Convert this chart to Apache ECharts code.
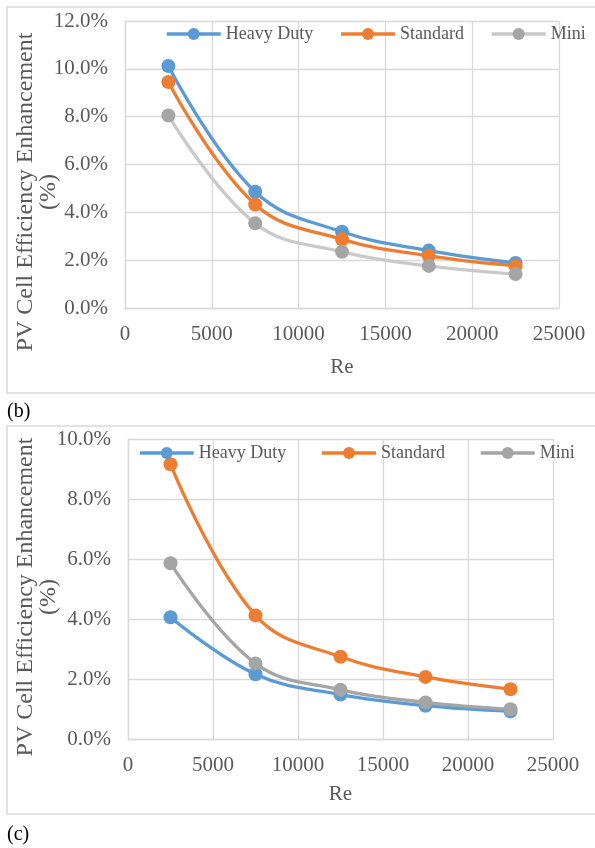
<!DOCTYPE html>
<html>
<head>
<meta charset="utf-8">
<script src="https://cdn.jsdelivr.net/npm/echarts@6/dist/echarts.min.js"></script>
<style>
html,body{margin:0;padding:0;background:#fff;}
#c1{position:absolute;left:0;top:0;width:595px;height:424px;}
#c2{position:absolute;left:0;top:424px;width:595px;height:424px;}
</style>
</head>
<body>
<div id="c1"></div>
<div id="c2"></div>
<script>
// ---- data ----
var reValues = [2500, 7500, 12500, 17500, 22500];
var seriesNames = ['Heavy Duty', 'Standard', 'Mini'];
// panel (b) values in %
var bHeavy = [10.12, 4.86, 3.19, 2.40, 1.88];
var bStandard = [9.45, 4.33, 2.87, 2.18, 1.76];
var bMini = [8.05, 3.54, 2.35, 1.76, 1.42];
// panel (c) values in %
var cHeavy = [4.06, 2.16, 1.48, 1.11, 0.92];
var cStandard = [9.16, 4.12, 2.74, 2.07, 1.66];
var cMini = [5.86, 2.52, 1.64, 1.22, 0.99];
var bYMax = 12, cYMax = 10;
var xMax = 25000;

var FONT = '"Liberation Serif", "Times New Roman", serif';
var TXT = '#595959';
var GRID = '#d9d9d9';

function pairs(vals) { return reValues.map(function (x, i) { return [x, vals[i]]; }); }

function makeSeries(name, vals, color, lineColor) {
  return {
    name: name, type: 'line', data: pairs(vals),
    smooth: 0.4, symbol: 'circle', symbolSize: 14,
    lineStyle: { color: lineColor || color, width: 3.3 },
    itemStyle: { color: color },
    emphasis: { disabled: true }
  };
}

function makeOption(p) {
  return {
    animation: false,
    backgroundColor: '#fff',
    textStyle: { fontFamily: FONT },
    grid: { left: p.gridLeft, top: p.gridTop, width: p.gridWidth, height: p.gridHeight, containLabel: false },
    legend: {
      data: seriesNames, left: p.legendLeft, top: p.legendTop, padding: 0,
      itemWidth: 54, itemHeight: 15, itemGap: p.legendGap,
      lineStyle: { width: 3.5 },
      textStyle: { fontFamily: FONT, fontSize: 18, color: TXT },
      selectedMode: false
    },
    xAxis: {
      type: 'value', min: 0, max: xMax, interval: 5000,
      name: 'Re', nameLocation: 'middle', nameGap: p.nameGap,
      nameTextStyle: { fontFamily: FONT, fontSize: 21, color: TXT },
      axisLine: { show: true, lineStyle: { color: GRID, width: 1.3 } },
      axisTick: { show: false },
      axisLabel: { fontFamily: FONT, fontSize: 21, color: TXT, margin: 16,
        formatter: function (v) { return String(v); } },
      splitLine: { show: true, lineStyle: { color: GRID, width: 1.3 } }
    },
    yAxis: {
      type: 'value', min: 0, max: p.yMax, interval: 2,
      axisLine: { show: true, lineStyle: { color: GRID, width: 1.3 } },
      axisTick: { show: false },
      axisLabel: { fontFamily: FONT, fontSize: 21, color: TXT, margin: 17,
        formatter: function (v) { return v.toFixed(1) + '%'; } },
      splitLine: { show: true, lineStyle: { color: GRID, width: 1.3 } }
    },
    graphic: [
      { type: 'rect', shape: { x: 7, y: p.boxTop, width: 620, height: p.boxBottom - p.boxTop },
        style: { fill: 'none', stroke: GRID, lineWidth: 1.5 }, silent: true, z: -10 },
      { type: 'text', x: p.titleX, y: p.titleY, rotation: Math.PI / 2,
        style: { text: 'PV Cell Efficiency Enhancement\n(%)', fontFamily: FONT, fontSize: 24,
          fill: TXT, align: 'center', verticalAlign: 'middle', lineHeight: 23 } },
      { type: 'text', x: 7, y: p.labelY,
        style: { text: p.label, fontFamily: FONT, fontSize: 20, fill: '#000', align: 'left', verticalAlign: 'middle' } }
    ],
    series: p.series
  };
}

var chart1 = echarts.init(document.getElementById('c1'), null, { renderer: 'canvas' });
chart1.setOption(makeOption({
  gridLeft: 125, gridTop: 21, gridWidth: 434, gridHeight: 287,
  legendLeft: 165, legendTop: 25, legendGap: 26, nameGap: 49,
  yMax: bYMax, boxTop: 7, boxBottom: 393,
  titleX: 37, titleY: 192, labelY: 412, label: '(b)',
  series: [
    makeSeries(seriesNames[0], bHeavy, '#5B9BD5'),
    makeSeries(seriesNames[1], bStandard, '#ED7D31'),
    makeSeries(seriesNames[2], bMini, '#A5A5A5', '#C9C9C9')
  ]
}));

var chart2 = echarts.init(document.getElementById('c2'), null, { renderer: 'canvas' });
chart2.setOption(makeOption({
  gridLeft: 128, gridTop: 15, gridWidth: 425, gridHeight: 300,
  legendLeft: 138, legendTop: 20, legendGap: 34, nameGap: 45,
  yMax: cYMax, boxTop: 2, boxBottom: 390,
  titleX: 37, titleY: 173, labelY: 411, label: '(c)',
  series: [
    makeSeries(seriesNames[0], cHeavy, '#5B9BD5'),
    makeSeries(seriesNames[1], cStandard, '#ED7D31'),
    makeSeries(seriesNames[2], cMini, '#A5A5A5')
  ]
}));
</script>
</body>
</html>
